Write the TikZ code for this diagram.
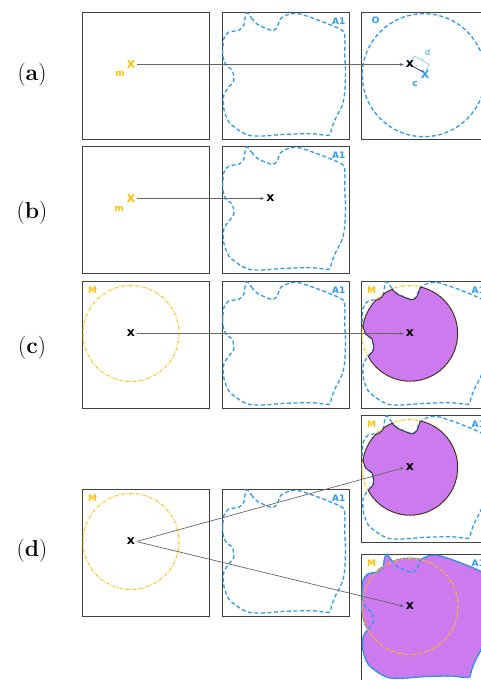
\documentclass[tikz,border=0pt]{standalone}
\usepackage{fontspec}
\setsansfont{DejaVu Sans}
\usetikzlibrary{patterns,arrows.meta}
\definecolor{framec}{HTML}{404040}
\definecolor{blobblue}{HTML}{2E9AF0}
\definecolor{myyellow}{HTML}{FFC000}
\definecolor{purp}{HTML}{D07CF2}
\definecolor{purpline}{HTML}{B040E0}
\definecolor{arrowgray}{HTML}{666666}
\definecolor{darkline}{HTML}{303030}
\newcommand\blobshape{plot[smooth cycle, tension=0.45] coordinates {(25.5,0.6) (30,6) (36,12.5) (50.7,18.5) (55.7,15) (59,6.7) (67.3,2.3) (77.3,1.7) (97.3,8.3) (120.7,18.3) (123.3,26.7) (123.3,43.3) (124,60) (123.3,80) (120.7,93.3) (114,106.7) (110,116.7) (107.3,123.3) (90.7,121.7) (64,122.3) (40.7,124) (27.3,123.3) (17.3,118.3) (7.3,110) (2.3,96.7) (2.3,83.3) (7.3,75) (12.3,68.3) (10.7,58.3) (4.7,53.3) (1.3,43.3) (2.3,26.7) (7.3,20) (17.3,18.3) (22.3,13.3) (23.5,6)}}
\newcommand\mcircle{(49,52.5) circle[radius=48]}
\tikzset{
  panel/.style={draw=framec, line width=1.4pt, minimum width=127pt, minimum height=127pt, inner sep=0pt, anchor=north west},
  blobdash/.style={draw=blobblue, line width=1.3pt, dash pattern=on 4pt off 2.5pt},
  mdash/.style={draw=myyellow, line width=1pt, dash pattern=on 3pt off 1.5pt on 1pt off 1.5pt},
  purplefill/.style={preaction={fill=purp}, pattern=north west lines, pattern color=purpline!70},
  conn/.style={draw=arrowgray, line width=0.7pt, -{Stealth[length=4pt,width=3pt]}, shorten <=1pt, shorten >=1pt},
  ymark/.style={text=myyellow, font=\sffamily\bfseries\fontsize{11}{12}\selectfont, inner sep=1pt},
  kmark/.style={text=black, font=\sffamily\bfseries\fontsize{12.5}{12}\selectfont, inner sep=1pt},
  smalllab/.style={font=\sffamily\bfseries\fontsize{9}{10}\selectfont, inner sep=0pt},
  panlab/.style={font=\fontsize{23}{25}\selectfont, inner sep=0pt}
}
\begin{document}
\begin{tikzpicture}[x=1pt,y=-1pt]
\useasboundingbox (0,0) rectangle (481,680);
\clip (0,0) rectangle (481,680);
% panel labels
\node[panlab] (la) at (32,75) {(\textbf{a})};
\node[panlab] (lb) at (32,213) {(\textbf{b})};
\node[panlab] (lc) at (32,348) {(\textbf{c})};
\node[panlab] (ld) at (32,551) {(\textbf{d})};
% frames
\node[panel] (a1) at (82,12) {};
\node[panel] (a2) at (221.5,12) {};
\node[panel] (a3) at (361,12) {};
\node[panel] (b1) at (82,146) {};
\node[panel] (b2) at (221.5,146) {};
\node[panel] (c1) at (82,281) {};
\node[panel] (c2) at (221.5,281) {};
\node[panel] (c3) at (361,281) {};
\node[panel] (d1) at (82,489) {};
\node[panel] (d2) at (221.5,489) {};
\node[panel] (d3) at (361,415) {};
\node[panel] (d4) at (361,554) {};
% blobs in column 2
\foreach \yy in {12,146,281,489}{
  \begin{scope}[shift={(221.5,\yy)}]
    \draw[blobdash] \blobshape;
    \node[smalllab, text=blobblue] at (117.3,9) {A1};
  \end{scope}
}
% row a, box 3
\begin{scope}[shift={(361,12)}]
  \draw[blobdash] (62.8,63.2) circle[radius=61.5];
  \node[smalllab, text=blobblue] (olab) at (14.7,8.7) {O};
  \draw[blobblue!70, line width=0.5pt] (50.7,49) -- (53.3,44) -- (68,52.3) -- (65.3,58);
  \draw[blobblue!70, line width=0.5pt] (60.8,48.4) -- (62,46);
  \draw[blue!50!black, line width=0.6pt] (51,54) -- (62,60);
  \node[smalllab, text=blobblue, font=\sffamily\fontsize{8}{9}\selectfont] (dlab) at (66.7,40.7) {d};
  \node[smalllab, text=blobblue] (clab) at (54,72.3) {c};
  \node[text=blobblue, font=\sffamily\bfseries\fontsize{11}{12}\selectfont, inner sep=0pt] (bx) at (64,62) {X};
\end{scope}
% M circles in column 1
\foreach \yy in {281,489}{
  \begin{scope}[shift={(82,\yy)}]
    \draw[mdash] \mcircle;
    \node[smalllab, text=myyellow] at (10.5,9.5) {M};
  \end{scope}
}
% intersections (c box3 and d upper)
\foreach \yy in {281,415}{
  \begin{scope}[shift={(361,\yy)}]
    \draw[blobdash] \blobshape;
    \draw[mdash] \mcircle;
    \begin{scope}
      \clip \blobshape;
      \clip \mcircle;
      \fill[purplefill] (-5,-5) rectangle (130,130);
      \draw[darkline, line width=1.6pt] \blobshape;
      \draw[darkline, line width=1.6pt] \mcircle;
    \end{scope}
    \node[smalllab, text=myyellow] at (10.5,9.5) {M};
    \node[smalllab, text=blobblue] at (117.3,9) {A1};
  \end{scope}
}
% union (d lower)
\begin{scope}[shift={(361,554)}]
  \draw[blobblue!80!black, line width=1.8pt] \blobshape;
  \draw[blobblue!80!black, line width=1.8pt] \mcircle;
  \fill[purplefill] \blobshape;
  \fill[purplefill] \mcircle;
  \draw[blobdash] \blobshape;
  \draw[mdash] \mcircle;
  \node[smalllab, text=myyellow] at (10.5,9.5) {M};
  \node[smalllab, text=blobblue] at (117.3,9) {A1};
\end{scope}
% marks
\node[ymark] (ma) at (131,64.5) {X};
\node[smalllab, text=myyellow] (ma-m) at (120,74) {m};
\node[kmark] (ta) at (410,64.5) {x};
\node[ymark] (mb) at (131,198.5) {X};
\node[smalllab, text=myyellow] (mb-m) at (119,208.5) {m};
\node[kmark] (tb) at (270.5,198.5) {x};
\node[kmark] (mc) at (131,333.5) {x};
\node[kmark] (tc) at (410,333.5) {x};
\node[kmark] (md) at (131,541.5) {x};
\node[kmark] (td1) at (410,467.5) {x};
\node[kmark] (td2) at (410,606.5) {x};
% connectors
\draw[conn] (ma.east) -- (ta.west);
\draw[conn] (mb.east) -- (tb.west);
\draw[conn] (mc.east) -- (tc.west);
\draw[conn] (md.east) -- (td1.west);
\draw[conn] (md.east) -- (td2.west);
\end{tikzpicture}
\end{document}
